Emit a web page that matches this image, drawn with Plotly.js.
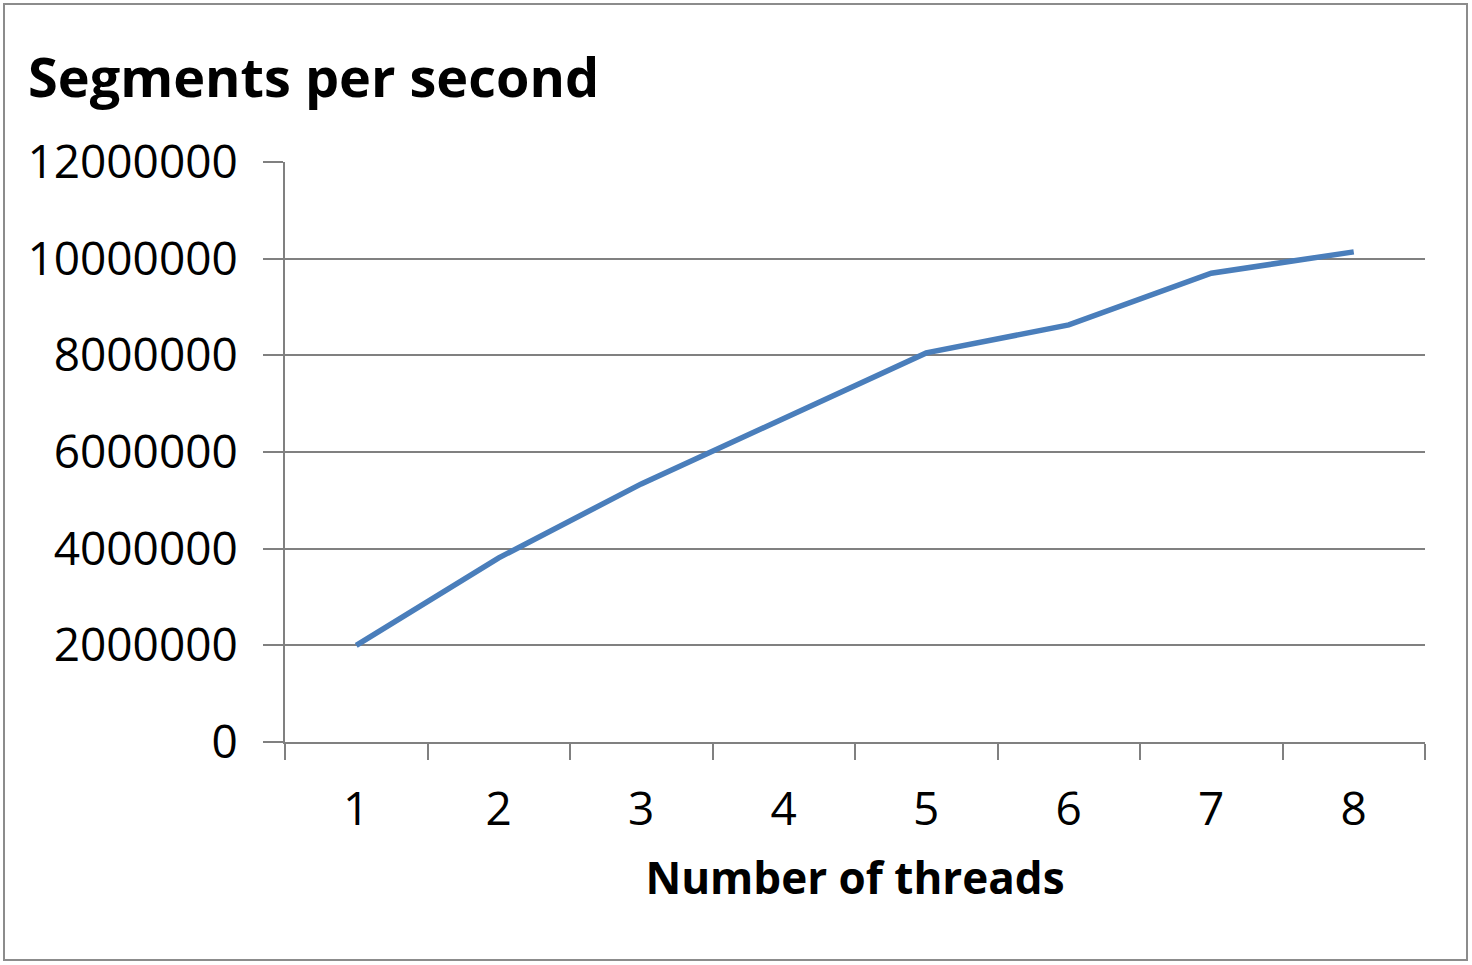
<!DOCTYPE html>
<html>
<head>
<meta charset="utf-8">
<script src="https://cdn.plot.ly/plotly-3.0.1.min.js"></script>
<style>
html,body{margin:0;padding:0;background:#fff;}
#chart{width:1472px;height:965px;}
</style>
</head>
<body>
<div id="chart"></div>
<script>
const threads = ["1","2","3","4","5","6","7","8"];
const segmentsPerSecond = [2000000, 3810000, 5340000, 6680000, 8050000, 8630000, 9700000, 10140000];
const yTicks = [0, 2000000, 4000000, 6000000, 8000000, 10000000, 12000000];
const yTickLabels = ["0","2000000","4000000","6000000","8000000","10000000","12000000"];

const W = 1472, H = 965;
const L = 285, R = 1425, T = 162, B = 742;
const px2x = p => (p - L) / (R - L);
const px2y = p => (B - p) / (B - T);

const font = "Open Sans, Noto Sans, sans-serif";

Plotly.newPlot("chart", [{
  x: threads,
  y: segmentsPerSecond,
  type: "scatter",
  mode: "lines",
  line: {color: "#4A7EBB", width: 5.5},
  hoverinfo: "x+y"
}], {
  width: W, height: H,
  margin: {l: L, r: W - R, t: T, b: H - B},
  paper_bgcolor: "#fff",
  plot_bgcolor: "#fff",
  showlegend: false,
  font: {family: font, color: "#000"},
  title: {
    text: "<b>Segments per second</b>",
    font: {family: font, size: 54, color: "#000"},
    xref: "container", x: 28 / W, xanchor: "left",
    yref: "container", y: 1 - 78 / H, yanchor: "middle"
  },
  xaxis: {
    type: "category",
    range: [-0.5, 7.5],
    tickson: "boundaries",
    ticks: "outside", ticklen: 16, tickwidth: 2, tickcolor: "#808080",
    showline: true, linecolor: "#808080", linewidth: 2,
    showgrid: false, zeroline: false,
    tickfont: {family: font, size: 46, color: "#000"},
    ticklabelstandoff: 26,
    title: {text: "<b>Number of threads</b>", font: {family: font, size: 44, color: "#000"}, standoff: 26},
    automargin: false, fixedrange: true
  },
  yaxis: {
    range: [0, 12000000],
    tickvals: yTicks, ticktext: yTickLabels,
    ticks: "outside", ticklen: 20, tickwidth: 2, tickcolor: "#808080",
    showline: true, linecolor: "#808080", linewidth: 2,
    showgrid: true, gridcolor: "#808080", gridwidth: 2,
    zeroline: false,
    tickfont: {family: font, size: 46, color: "#000"},
    ticklabelstandoff: 16,
    automargin: false, fixedrange: true
  },
  shapes: [{
    type: "rect", xref: "paper", yref: "paper",
    x0: px2x(4), x1: px2x(1467), y0: px2y(960), y1: px2y(4),
    line: {color: "#8c8c8c", width: 2}, fillcolor: "rgba(0,0,0,0)", layer: "below"
  }]
}, {displayModeBar: false, staticPlot: false});
</script>
</body>
</html>
